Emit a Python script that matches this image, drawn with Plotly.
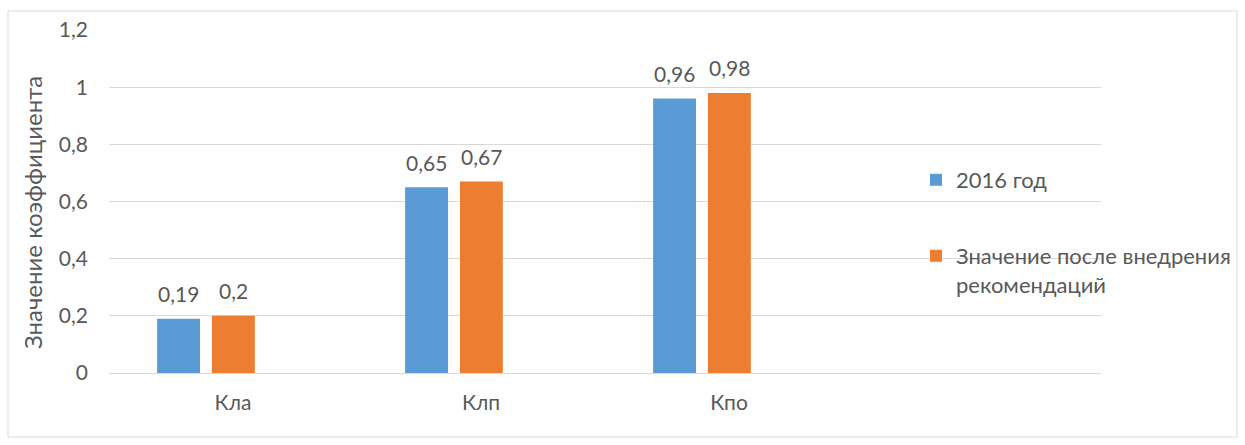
import plotly.graph_objects as go

# Coefficients per indicator
categories = ["Кла", "Клп", "Кпо"]
values_2016 = [0.19, 0.65, 0.96]
values_after = [0.2, 0.67, 0.98]
series_names = ["2016 год", "Значение после внедрения<br>рекомендаций"]
y_ticks = [0, 0.2, 0.4, 0.6, 0.8, 1.0, 1.2]
y_tick_labels = ["0", "0,2", "0,4", "0,6", "0,8", "1", "1,2"]
y_title = "Значение коэффициента"

W, H = 1245, 445
L, R, T, B = 109, 1101, 30, 373  # plot area in pixels
pw, ph = R - L, B - T
cat_px = pw / 4  # four category slots, the last one left empty

FONT = "Lato, 'Open Sans', sans-serif"
TXT = "#595959"


def fmt(v):
    return f"{v:g}".replace(".", ",")


def px_x(x):
    return (x - L) / pw


def px_y(y):
    return (B - y) / ph


bar_w = 0.173
offsets = [-0.306, -0.085]
colors = ["#5B9BD5", "#ED7D31"]
series = [values_2016, values_after]

fig = go.Figure()
annotations = []
for i, (vals, name, col, off) in enumerate(zip(series, series_names, colors, offsets)):
    fig.add_trace(go.Bar(
        x=categories, y=vals, name=name,
        marker=dict(color=col, line=dict(width=0)),
        width=bar_w, offset=off,
        legend="legend" if i == 0 else "legend2",
    ))
    # value labels centred over each bar
    shift = (off + bar_w / 2) * cat_px
    for c, v in zip(categories, vals):
        annotations.append(dict(
            x=c, y=v, xref="x", yref="y", text=fmt(v), showarrow=False,
            xshift=shift, yshift=25, yanchor="middle", xanchor="center",
            font=dict(size=21, color=TXT, family=FONT),
        ))

# vertical axis title
annotations.append(dict(
    x=px_x(32), y=px_y(213), xref="paper", yref="paper", text=y_title,
    textangle=-90, showarrow=False, xanchor="center", yanchor="middle",
    font=dict(size=24, color=TXT, family=FONT),
))

fig.update_layout(
    width=W, height=H,
    margin=dict(l=L, r=W - R, t=T, b=H - B, autoexpand=False),
    paper_bgcolor="white", plot_bgcolor="white",
    font=dict(family=FONT, color=TXT, size=20),
    barmode="overlay",
    showlegend=True,
    legend=dict(x=px_x(916), y=px_y(159), xanchor="left", yanchor="top",
                font=dict(size=22, color=TXT, family=FONT),
                bgcolor="rgba(0,0,0,0)", itemwidth=30, valign="top"),
    legend2=dict(x=px_x(916), y=px_y(235), xanchor="left", yanchor="top",
                 font=dict(size=22, color=TXT, family=FONT),
                 bgcolor="rgba(0,0,0,0)", itemwidth=30, valign="top"),
    xaxis=dict(
        type="category", categoryorder="array", categoryarray=categories,
        range=[-0.5, 3.5], showgrid=False, zeroline=False, showline=False,
        ticks="", tickfont=dict(size=21, color=TXT, family=FONT),
        ticklabelstandoff=15,
    ),
    yaxis=dict(
        range=[0, 1.2], tickvals=y_ticks, ticktext=y_tick_labels,
        showgrid=True, gridcolor="#D9D9D9", gridwidth=1,
        zeroline=True, zerolinecolor="#D9D9D9", zerolinewidth=1,
        showline=False, ticks="",
        tickfont=dict(size=21, color=TXT, family=FONT),
        ticklabelstandoff=20,
    ),
    annotations=annotations,
    shapes=[dict(
        type="rect", xref="paper", yref="paper",
        x0=px_x(8), x1=px_x(1237), y0=px_y(437), y1=px_y(11),
        line=dict(color="#D9D9D9", width=1), fillcolor="rgba(0,0,0,0)",
        layer="below",
    )],
)

fig.write_html("out.html")
